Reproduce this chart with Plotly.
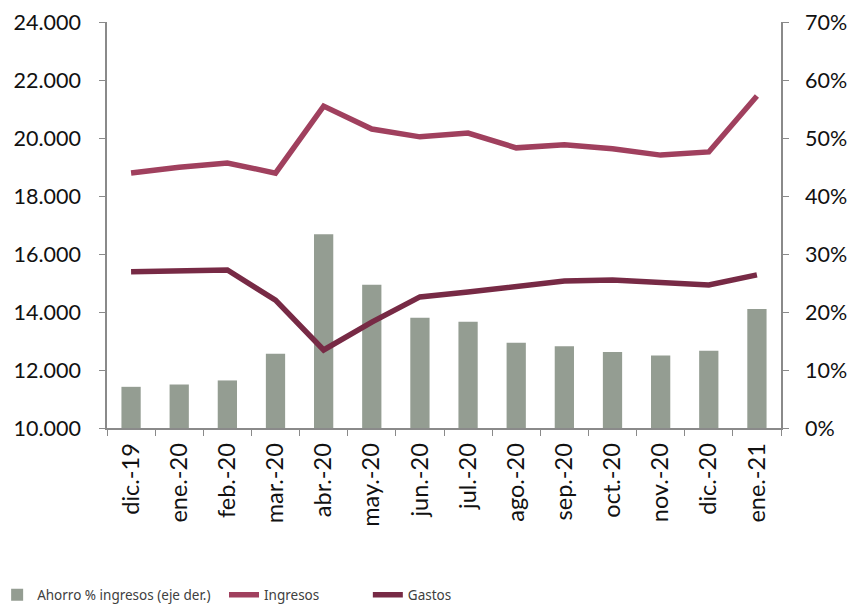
import plotly.graph_objects as go

categorias = ["dic.-19", "ene.-20", "feb.-20", "mar.-20", "abr.-20", "may.-20", "jun.-20",
              "jul.-20", "ago.-20", "sep.-20", "oct.-20", "nov.-20", "dic.-20", "ene.-21"]
ahorro_pct = [0.071, 0.075, 0.082, 0.128, 0.334, 0.247, 0.190,
              0.183, 0.147, 0.141, 0.131, 0.125, 0.133, 0.205]
ingresos = [18790, 18990, 19140, 18790, 21100, 20310, 20040,
            20170, 19660, 19770, 19630, 19410, 19520, 21450]
gastos = [15390, 15430, 15450, 14410, 12690, 13650, 14520,
          14690, 14860, 15070, 15100, 15000, 14930, 15280]

left_ticks = [10000, 12000, 14000, 16000, 18000, 20000, 22000, 24000]
right_ticks = [0, 0.1, 0.2, 0.3, 0.4, 0.5, 0.6, 0.7]

c_bar = "#949d92"
c_ing = "#a0405e"
c_gas = "#772a45"
axis_col = "#8a8a8a"
tick_font = dict(family="Lato, Carlito, sans-serif", size=21.5, color="#111111")
leg_font = dict(family="Noto Sans, sans-serif", size=13.5, color="#404040")

fig = go.Figure()
fig.add_trace(go.Bar(x=categorias, y=ahorro_pct, name="Ahorro % ingresos (eje der.)",
                     marker=dict(color=c_bar, line=dict(width=0)), width=0.4,
                     yaxis="y", legend="legend"))
fig.add_trace(go.Scatter(x=categorias, y=ingresos, name="Ingresos", mode="lines",
                         line=dict(color=c_ing, width=5.5), yaxis="y2", legend="legend2"))
fig.add_trace(go.Scatter(x=categorias, y=gastos, name="Gastos", mode="lines",
                         line=dict(color=c_gas, width=5.5), yaxis="y2", legend="legend3"))

leg_common = dict(orientation="h", yanchor="middle", xanchor="left", y=-0.411,
                  font=leg_font, bgcolor="rgba(0,0,0,0)")

fig.update_layout(
    width=865, height=607,
    paper_bgcolor="white", plot_bgcolor="white",
    margin=dict(l=99, r=92, t=14, b=187, autoexpand=False),
    separators=",.",
    xaxis=dict(type="category", range=[-0.5, 13.5], tickangle=-90, tickson="boundaries",
               ticks="outside", ticklen=6, tickcolor=axis_col, showline=True,
               linecolor=axis_col, linewidth=1.5, showgrid=False, automargin=False,
               ticklabelstandoff=4,
               tickfont=dict(family="Lato, Carlito, sans-serif", size=23.5, color="#111111")),
    yaxis=dict(side="right", range=[0, 0.7], tickvals=right_ticks, tickformat=".0%",
               ticks="outside", ticklen=6, tickcolor=axis_col, showline=True,
               linecolor=axis_col, linewidth=1.5, showgrid=False, zeroline=False,
               automargin=False, ticklabeloverflow="allow", ticklabelstandoff=12,
               tickfont=tick_font),
    yaxis2=dict(side="left", overlaying="y", range=[10000, 24000], tickvals=left_ticks,
                tickformat=",d", ticks="outside", ticklen=6, tickcolor=axis_col,
                showline=True, linecolor=axis_col, linewidth=1.5, showgrid=False,
                zeroline=False, automargin=False, ticklabeloverflow="allow",
                ticklabelstandoff=14, tickfont=tick_font),
    legend=dict(x=-0.163, **leg_common),
    legend2=dict(x=0.1736, **leg_common),
    legend3=dict(x=0.387, **leg_common),
    showlegend=True,
)

fig.write_html("out.html")
